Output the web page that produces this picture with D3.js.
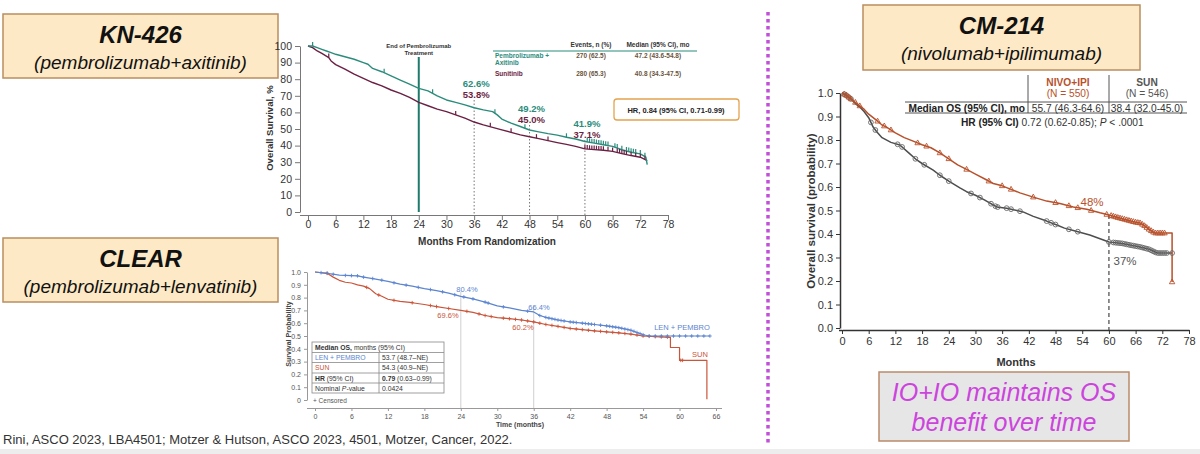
<!DOCTYPE html>
<html><head><meta charset="utf-8">
<script src="https://cdn.jsdelivr.net/npm/d3@7"></script>
<style>
body{margin:0;background:#fff;}
svg{display:block;font-family:"Liberation Sans",Arial,sans-serif;}
</style></head><body>
<svg id="c" width="1200" height="454"></svg>
<script>
// ---------------- DATA ----------------
// KN-426 (overall survival, %)
const knMonthTicks = [0,6,12,18,24,30,36,42,48,54,60,66,72,78];
const knPctTicks = [0,10,20,30,40,50,60,70,80,90,100];
const knPembroAxi = [[0,100],[1,100],[2,99],[3,98],[4,97],[5,96],[6,95],[8,93.5],[10,92],[12,90],[13,89],[14,86.5],[16,84.5],[18,82],[20,79.5],[22,77],[24,74.5],[26,73],[28,70],[30,67.5],[32,66],[34,64.5],[36,62.8],[38,61.5],[40,60.5],[41,58.5],[42,56],[44,53.5],[46,51.5],[48,49.4],[50,48.3],[52,47.2],[54,46.3],[56,45],[58,44],[60,42.5],[62,41.5],[64,40.5],[66,39.5],[68,37.5],[70,36],[72,35],[73.2,33],[73.5,28.5]];
const knSunitinib = [[0,100],[1,99],[2,97],[3,95.5],[4.5,93],[5,91],[6,88.8],[8,86],[10,83],[12,80.5],[14,78],[16,76],[18,73.5],[20,71.5],[22,69],[24,66],[26,64],[28,62],[30,60.5],[32,58.5],[34,56.5],[36,54.2],[38,52.5],[40,51],[42,49.5],[44,48],[46,46.5],[48,45.3],[50,44.2],[52,43],[54,41.8],[56,40.7],[58,39.5],[60,38],[62,37.6],[64,37.2],[66,36.5],[68,35.2],[70,34],[72,33],[73.5,31]];
const knCensorPembro = [1,16.5,27,40.5,47,56,60.5,61,61.5,62,62.5,63,63.5,64,64.5,65,66.5,67,68,69,69.5,70,70.5,71,72,73];
const knCensorSun = [4.5,32,39.5,44,49.5,52,60,60.5,61,61.5,62,62.5,63,63.5,64,65,66,67,67.5,68,68.5,69,70,71,72,73];
const knLandmarks = [36,48,60];
const knLandmarkPembro = ["62.6%","49.2%","41.9%"];
const knLandmarkSun = ["53.8%","45.0%","37.1%"];
const knLegendRows = ["Pembrolizumab +|Axitinib","Sunitinib"];
const knEvents = ["270 (62.5)","280 (65.3)"];
const knMedians = ["47.2 (43.6-54.8)","40.8 (34.3-47.5)"];

// CLEAR (survival probability)
const clMonthTicks = [0,6,12,18,24,30,36,42,48,54,60,66];
const clProbTicks = [0,0.1,0.2,0.3,0.4,0.5,0.6,0.7,0.8,0.9,1.0];
const clLenPembro = [[0,1],[2,0.99],[4,0.975],[7,0.97],[8,0.96],[10,0.945],[12,0.927],[14,0.905],[16,0.89],[18,0.87],[20,0.855],[22,0.835],[24,0.81],[26,0.79],[28,0.765],[30,0.735],[32,0.72],[34,0.70],[36,0.688],[37,0.66],[38,0.645],[40,0.625],[42,0.61],[44,0.60],[46,0.59],[48,0.579],[50,0.565],[52,0.545],[54,0.51],[55,0.50],[65,0.50]];
const clSun = [[0,1],[2,0.99],[3,0.96],[4,0.935],[5,0.92],[6,0.914],[7,0.90],[8,0.89],[9,0.87],[10,0.83],[11,0.81],[12,0.787],[14,0.77],[16,0.76],[18,0.746],[20,0.73],[22,0.715],[24,0.70],[26,0.685],[28,0.66],[30,0.644],[32,0.635],[34,0.625],[36,0.61],[38,0.59],[40,0.575],[42,0.559],[44,0.55],[46,0.54],[48,0.532],[50,0.525],[52,0.515],[54,0.50],[56,0.495],[58.5,0.49],[58.5,0.41],[60,0.41],[60,0.31],[64.5,0.31],[64.5,0.005]];
const clCensorLen = [1,2,3,5,6,7,8,9.5,11,13,15,17,19,21,23,24.5,26,28,28.5,31,35,37,38,38.5,39,39.5,40,40.5,41,42,42.5,43,44,44.5,45,45.5,46,47,48,48.5,49,49.5,50,50.5,51,51.5,52,52.5,53,53.5,54,55,56,57,58,59,60,61,62,63,64,65];
const clCensorSun = [2,8.5,10.5,13,16,19,20,22,25,27,28,29,31,32,33,34,35,36,37,38,39,40,41,42,43,44,45,46,47,48,49,50,51,52,53,54,55,56,57,58,60.2,60.5];
const clLandmarks = [24,36];
const clLandmarkLen = ["80.4%","66.4%"];
const clLandmarkSun = ["69.6%","60.2%"];

// CM-214 (overall survival, probability)
const cmMonthTicks = [0,6,12,18,24,30,36,42,48,54,60,66,72,78];
const cmProbTicks = [0,0.1,0.2,0.3,0.4,0.5,0.6,0.7,0.8,0.9,1.0];
const cmNivoIpi = [[0,1],[1,0.99],[2,0.975],[3,0.96],[4,0.945],[5,0.93],[6,0.91],[8,0.88],[9,0.864],[10,0.855],[12,0.83],[14,0.81],[16,0.795],[18,0.78],[20,0.767],[22,0.745],[24,0.72],[26,0.694],[28,0.675],[30,0.655],[32,0.635],[34,0.615],[36,0.605],[38,0.59],[40,0.575],[43,0.557],[46,0.54],[49,0.53],[52,0.515],[55,0.505],[58,0.49],[60,0.481],[62,0.47],[64,0.46],[66,0.45],[67,0.447],[68,0.435],[69,0.42],[70.3,0.404],[74.2,0.404],[74.2,0.196]];
const cmSun = [[0,1],[1,0.99],[2,0.975],[3,0.955],[4,0.94],[5,0.92],[6,0.895],[7,0.855],[7.8,0.835],[9,0.81],[11,0.79],[13,0.779],[15,0.745],[16.8,0.715],[18,0.70],[20.5,0.672],[22,0.65],[24,0.625],[26.5,0.596],[28,0.58],[30,0.565],[32,0.545],[34.8,0.515],[37,0.51],[40.7,0.494],[43,0.475],[46,0.455],[48.3,0.438],[50,0.425],[52,0.415],[55.7,0.396],[58,0.38],[60,0.366],[63,0.36],[65,0.352],[67,0.345],[69,0.335],[70.8,0.319],[74.2,0.319]];
const cmCensorNivo = [0.5,1,1.5,2,3,4,8,9.5,11,17,19,22,24,28,33,36,38,43,48,51,53,56,59.5,60.5,61,61.5,62,62.5,63,63.5,64,64.5,65,65.5,66,66.5,67,67.5,68,68.5,69,69.5,70,70.5,71,71.5,72,72.5,74.2];
const cmCensorSun = [0.5,1,1.5,2,6.5,7.5,12.5,13.5,16.5,18.5,22,24,29,31,33.5,34.5,35,37,38,40,46,47,48,51,53,60,61,61.5,62,62.5,63,63.5,64,64.5,65,65.5,66,66.5,67,67.5,68,68.5,69,69.5,70,70.5,71,71.5,72,72.5,73,74.2];
const cmLandmark = 60;
const cmLandmarkNivo = "48%";
const cmLandmarkSun = "37%";

// ---------------- HELPERS ----------------
const svg = d3.select("#c");
function valueAt(data, t){
  const last = data[data.length-1];
  if (t >= last[0]) return last[1];
  for (let i=0;i<data.length-1;i++){
    const a=data[i], b=data[i+1];
    if (t>=a[0] && t<=b[0] && b[0]>a[0]) return a[1] + (b[1]-a[1])*(t-a[0])/(b[0]-a[0]);
  }
  return data[0][1];
}
function km(g, data, x, y, color, w){
  g.append("path").datum(data)
   .attr("d", d3.line().x(d=>x(d[0])).y(d=>y(d[1])))
   .attr("fill","none").attr("stroke",color).attr("stroke-width",w).attr("stroke-linejoin","round");
}
function styleAxis(a, fs, col, lineCol){
  a.selectAll("text").attr("font-size",fs).attr("fill",col).attr("font-family","Liberation Sans, Arial, sans-serif");
  a.selectAll("line").attr("stroke",lineCol);
  a.select(".domain").attr("stroke",lineCol);
}
function titleBox(x,y,w,h,t1,t2){
  svg.append("rect").attr("x",x).attr("y",y).attr("width",w).attr("height",h)
    .attr("fill","#fde9c6").attr("stroke","#b98e5f").attr("stroke-width",1.5);
  svg.append("text").attr("x",x+w/2).attr("y",y+29).attr("text-anchor","middle")
    .attr("font-size",24).attr("font-weight","bold").attr("font-style","italic").attr("fill","#111").text(t1);
  svg.append("text").attr("x",x+w/2).attr("y",y+55).attr("text-anchor","middle")
    .attr("font-size",19).attr("font-style","italic").attr("fill","#111").text(t2);
}

// background strip
svg.append("rect").attr("x",0).attr("y",449).attr("width",1200).attr("height",5).attr("fill","#ededed");

// ---------------- TITLES / TEXT ----------------
titleBox(3,14,275,64,"KN-426","(pembrolizumab+axitinib)");
titleBox(3,238,275,64,"CLEAR","(pembrolizumab+lenvatinib)");
titleBox(863,5,277,65,"CM-214","(nivolumab+ipilimumab)");

svg.append("text").attr("x",3).attr("y",444).attr("font-size",13).attr("fill","#333")
  .text("Rini, ASCO 2023, LBA4501; Motzer & Hutson, ASCO 2023, 4501, Motzer, Cancer, 2022.");

svg.append("line").attr("x1",768).attr("x2",768).attr("y1",12).attr("y2",446)
  .attr("stroke","#c24fd9").attr("stroke-width",3.5).attr("stroke-dasharray","3.5,3.5");

svg.append("rect").attr("x",879).attr("y",372).attr("width",250).attr("height",69)
  .attr("fill","#e6e6e6").attr("stroke","#b98a6a").attr("stroke-width",1.5);
svg.append("text").attr("x",1004).attr("y",401).attr("text-anchor","middle").attr("font-size",25)
  .attr("font-style","italic").attr("fill","#cc44dd").text("IO+IO maintains OS");
svg.append("text").attr("x",1004).attr("y",431).attr("text-anchor","middle").attr("font-size",25)
  .attr("font-style","italic").attr("fill","#cc44dd").text("benefit over time");

// ---------------- KN-426 ----------------
{
  const teal = "#2b8c7c", maroon = "#6b1f43";
  const x = d3.scaleLinear([0,78],[308,668]);
  const y = d3.scaleLinear([0,100],[212,46]);
  const g = svg.append("g");
  const ya = g.append("g").attr("transform","translate(300,0)")
    .call(d3.axisLeft(y).tickValues(knPctTicks).tickSize(5).tickSizeOuter(0).tickPadding(3));
  styleAxis(ya,10.5,"#333","#777");
  const xa = g.append("g").attr("transform","translate(0,215)")
    .call(d3.axisBottom(x).tickValues(knMonthTicks).tickSize(5).tickSizeOuter(0).tickPadding(1));
  styleAxis(xa,10.5,"#333","#777");
  g.append("line").attr("x1",300).attr("x2",x(0)).attr("y1",215.5).attr("y2",215.5).attr("stroke","#777");
  g.append("text").attr("x",487).attr("y",245).attr("text-anchor","middle").attr("font-size",10)
    .attr("font-weight","bold").attr("fill","#333").text("Months From Randomization");
  g.append("text").attr("transform","translate(273,128) rotate(-90)").attr("text-anchor","middle")
    .attr("font-size",9.5).attr("font-weight","bold").attr("fill","#333").text("Overall Survival, %");

  g.append("line").attr("x1",x(24)).attr("x2",x(24)).attr("y1",57).attr("y2",y(0))
    .attr("stroke","#1e7a6a").attr("stroke-width",2);
  g.append("text").attr("x",x(24)).attr("y",48).attr("text-anchor","middle").attr("font-size",6)
    .attr("font-weight","bold").attr("fill","#333").text("End of Pembrolizumab");
  g.append("text").attr("x",x(24)).attr("y",55).attr("text-anchor","middle").attr("font-size",6)
    .attr("font-weight","bold").attr("fill","#333").text("Treatment");

  const labelTop = [92,117,132];
  knLandmarks.forEach((m,i)=>{
    g.append("line").attr("x1",x(m)).attr("x2",x(m)).attr("y1",labelTop[i]+8).attr("y2",215)
      .attr("stroke","#666").attr("stroke-width",0.9).attr("stroke-dasharray","1.5,2");
    g.append("text").attr("x",x(m)+2).attr("y",labelTop[i]-5).attr("text-anchor","middle")
      .attr("font-size",9.5).attr("font-weight","bold").attr("fill",teal).text(knLandmarkPembro[i]);
    g.append("text").attr("x",x(m)+2).attr("y",labelTop[i]+6).attr("text-anchor","middle")
      .attr("font-size",9.5).attr("font-weight","bold").attr("fill",maroon).text(knLandmarkSun[i]);
  });

  km(g,knSunitinib,x,y,maroon,1.4);
  km(g,knPembroAxi,x,y,teal,1.4);
  knCensorSun.forEach(m=>g.append("line").attr("x1",x(m)).attr("x2",x(m))
    .attr("y1",y(valueAt(knSunitinib,m))).attr("y2",y(valueAt(knSunitinib,m))-4).attr("stroke",maroon).attr("stroke-width",1.2));
  knCensorPembro.forEach(m=>g.append("line").attr("x1",x(m)).attr("x2",x(m))
    .attr("y1",y(valueAt(knPembroAxi,m))).attr("y2",y(valueAt(knPembroAxi,m))-4).attr("stroke",teal).attr("stroke-width",1.2));

  const lt = g.append("g").attr("font-size",6.5).attr("font-weight","bold");
  lt.append("text").attr("x",591).attr("y",47).attr("text-anchor","middle").attr("fill","#333").text("Events, n (%)");
  lt.append("text").attr("x",658).attr("y",47).attr("text-anchor","middle").attr("fill","#333").text("Median (95% CI), mo");
  lt.append("line").attr("x1",493).attr("x2",697).attr("y1",51).attr("y2",51).attr("stroke",teal).attr("stroke-width",1.2);
  const rowY = [58,76], rowCol = [teal, maroon];
  knLegendRows.forEach((r,i)=>{
    r.split("|").forEach((s,j)=>lt.append("text").attr("x",495).attr("y",rowY[i]+j*7).attr("fill",rowCol[i]).text(s));
    lt.append("text").attr("x",591).attr("y",rowY[i]).attr("text-anchor","middle").attr("fill","#6a5540").text(knEvents[i]);
    lt.append("text").attr("x",658).attr("y",rowY[i]).attr("text-anchor","middle").attr("fill","#6a5540").text(knMedians[i]);
  });
  g.append("rect").attr("x",614).attr("y",99).attr("width",125).attr("height",21).attr("rx",3)
    .attr("fill","#fff").attr("stroke","#e4a34e").attr("stroke-width",1.3);
  g.append("text").attr("x",676).attr("y",112.5).attr("text-anchor","middle").attr("font-size",7.5)
    .attr("font-weight","bold").attr("fill","#222").text("HR, 0.84 (95% CI, 0.71-0.99)");
}

// ---------------- CLEAR ----------------
{
  const blue = "#5b85d0", red = "#c9553a";
  const x = d3.scaleLinear([0,66],[315,716]);
  const y = d3.scaleLinear([0,1],[400,272]);
  const g = svg.append("g");
  const ya = g.append("g").attr("transform","translate(307,0)")
    .call(d3.axisLeft(y).tickValues(clProbTicks).tickSize(3).tickSizeOuter(0).tickPadding(3)
      .tickFormat(d=>d===0?"0":d3.format(".1f")(d)));
  styleAxis(ya,7,"#555","#999");
  const xa = g.append("g").attr("transform","translate(0,408)")
    .call(d3.axisBottom(x).tickValues(clMonthTicks).tickSize(3).tickSizeOuter(0).tickPadding(3));
  styleAxis(xa,7,"#555","#999");
  g.append("line").attr("x1",307).attr("x2",x(0)).attr("y1",408.5).attr("y2",408.5).attr("stroke","#999");
  g.append("line").attr("x1",x(66)).attr("x2",722).attr("y1",408.5).attr("y2",408.5).attr("stroke","#999");
  g.append("text").attr("x",520).attr("y",427).attr("text-anchor","middle").attr("font-size",7)
    .attr("font-weight","bold").attr("fill","#444").text("Time (months)");
  g.append("text").attr("transform","translate(291,334) rotate(-90)").attr("text-anchor","middle")
    .attr("font-size",7).attr("font-weight","bold").attr("fill","#444").text("Survival Probability");

  const vTop = [292,305];
  clLandmarks.forEach((m,i)=>g.append("line").attr("x1",x(m)).attr("x2",x(m)).attr("y1",vTop[i]).attr("y2",408)
    .attr("stroke","#cfcfcf").attr("stroke-width",1));

  km(g,clSun,x,y,red,1.2);
  km(g,clLenPembro,x,y,blue,1.2);
  const plus = (m,data,col)=>{
    const cx=x(m), cy=y(valueAt(data,m));
    g.append("path").attr("d",`M${cx-1.8},${cy}H${cx+1.8}M${cx},${cy-1.8}V${cy+1.8}`).attr("stroke",col).attr("stroke-width",0.9);
  };
  clCensorSun.forEach(m=>plus(m,clSun,red));
  clCensorLen.forEach(m=>plus(m,clLenPembro,blue));

  const lx = [467,539], ly1 = [292,310], ly2 = [318,330], lx2 = [448,523];
  clLandmarks.forEach((m,i)=>{
    g.append("text").attr("x",lx[i]).attr("y",ly1[i]).attr("text-anchor","middle").attr("font-size",7.5).attr("fill",blue).text(clLandmarkLen[i]);
    g.append("text").attr("x",lx2[i]).attr("y",ly2[i]).attr("text-anchor","middle").attr("font-size",7.5).attr("fill",red).text(clLandmarkSun[i]);
  });
  g.append("text").attr("x",682).attr("y",330).attr("text-anchor","middle").attr("font-size",7.5).attr("fill",blue).text("LEN + PEMBRO");
  g.append("text").attr("x",700).attr("y",357).attr("text-anchor","middle").attr("font-size",7.5).attr("fill",red).text("SUN");

  const t = g.append("g").attr("font-size",6.8).attr("fill","#333");
  const tl=312, tr=444, tc=379, rows=[342,352.5,362.5,373,383,393];
  t.append("rect").attr("x",tl).attr("y",rows[0]).attr("width",tr-tl).attr("height",rows[5]-rows[0]).attr("fill","#fff").attr("stroke","#888").attr("stroke-width",0.8);
  rows.slice(1,5).forEach(r=>t.append("line").attr("x1",tl).attr("x2",tr).attr("y1",r).attr("y2",r).attr("stroke","#888").attr("stroke-width",0.8));
  t.append("line").attr("x1",tc).attr("x2",tc).attr("y1",rows[1]).attr("y2",rows[5]).attr("stroke","#888").attr("stroke-width",0.8);
  const base = i=>rows[i]+7.6;
  const r0 = t.append("text").attr("x",tl+3).attr("y",base(0));
  r0.append("tspan").attr("font-weight","bold").text("Median OS,");
  r0.append("tspan").text(" months (95% CI)");
  t.append("text").attr("x",tl+3).attr("y",base(1)).attr("fill",blue).text("LEN + PEMBRO");
  t.append("text").attr("x",tc+3).attr("y",base(1)).text("53.7 (48.7–NE)");
  t.append("text").attr("x",tl+3).attr("y",base(2)).attr("fill",red).text("SUN");
  t.append("text").attr("x",tc+3).attr("y",base(2)).text("54.3 (40.9–NE)");
  const r3 = t.append("text").attr("x",tl+3).attr("y",base(3));
  r3.append("tspan").attr("font-weight","bold").text("HR");
  r3.append("tspan").text(" (95% CI)");
  const r3b = t.append("text").attr("x",tc+3).attr("y",base(3));
  r3b.append("tspan").attr("font-weight","bold").text("0.79");
  r3b.append("tspan").text(" (0.63–0.99)");
  const r4 = t.append("text").attr("x",tl+3).attr("y",base(4));
  r4.append("tspan").text("Nominal ");
  r4.append("tspan").attr("font-style","italic").text("P");
  r4.append("tspan").text("-value");
  t.append("text").attr("x",tc+3).attr("y",base(4)).text("0.0424");
  g.append("text").attr("x",313).attr("y",403).attr("font-size",6.5).attr("fill","#555").text("+ Censored");
}

// ---------------- CM-214 ----------------
{
  const orange = "#b8512b", gray = "#4d4d4d";
  const x = d3.scaleLinear([0,78],[842,1189]);
  const y = d3.scaleLinear([0,1],[328,93]);
  const g = svg.append("g");
  const ya = g.append("g").attr("transform","translate(840,0)")
    .call(d3.axisLeft(y).tickValues(cmProbTicks).tickSize(4).tickSizeOuter(0).tickPadding(3).tickFormat(d3.format(".1f")));
  styleAxis(ya,11,"#333","#333");
  ya.select(".domain").attr("stroke-width",1.5);
  const xa = g.append("g").attr("transform","translate(0,330)")
    .call(d3.axisBottom(x).tickValues(cmMonthTicks).tickSize(4).tickSizeOuter(0).tickPadding(3));
  styleAxis(xa,11,"#333","#333");
  xa.select(".domain").attr("stroke-width",1.5);
  g.append("line").attr("x1",839).attr("x2",x(0)).attr("y1",330.5).attr("y2",330.5).attr("stroke","#333").attr("stroke-width",1.5);
  g.append("text").attr("x",1016).attr("y",366).attr("text-anchor","middle").attr("font-size",11)
    .attr("font-weight","bold").attr("fill","#333").text("Months");
  g.append("text").attr("transform","translate(815,211) rotate(-90)").attr("text-anchor","middle")
    .attr("font-size",11.5).attr("font-weight","bold").attr("fill","#333").text("Overall survival (probability)");

  g.append("line").attr("x1",x(cmLandmark)).attr("x2",x(cmLandmark)).attr("y1",y(valueAt(cmNivoIpi,cmLandmark))).attr("y2",330)
    .attr("stroke","#555").attr("stroke-width",1.3).attr("stroke-dasharray","4,3");

  km(g,cmSun,x,y,gray,1.5);
  km(g,cmNivoIpi,x,y,orange,1.5);
  cmCensorSun.forEach(m=>g.append("circle").attr("cx",x(m)).attr("cy",y(valueAt(cmSun,m))).attr("r",2.4)
    .attr("fill","none").attr("stroke","#666").attr("stroke-width",0.9));
  cmCensorNivo.forEach(m=>{
    const cx=x(m), cy=y(valueAt(cmNivoIpi,m));
    g.append("path").attr("d",`M${cx},${cy-3}L${cx+2.7},${cy+1.8}L${cx-2.7},${cy+1.8}Z`)
      .attr("fill","none").attr("stroke",orange).attr("stroke-width",0.9);
  });
  g.append("text").attr("x",1092).attr("y",206).attr("text-anchor","middle").attr("font-size",11.5).attr("fill",orange).text(cmLandmarkNivo);
  g.append("text").attr("x",1125).attr("y",265).attr("text-anchor","middle").attr("font-size",11.5).attr("fill","#555").text(cmLandmarkSun);

  const t = g.append("g").attr("font-size",10.2);
  t.append("text").attr("x",1068).attr("y",86).attr("text-anchor","middle").attr("font-weight","bold").attr("fill",orange).text("NIVO+IPI");
  t.append("text").attr("x",1068).attr("y",97).attr("text-anchor","middle").attr("fill",orange).text("(N = 550)");
  t.append("text").attr("x",1147).attr("y",86).attr("text-anchor","middle").attr("font-weight","bold").attr("fill","#555").text("SUN");
  t.append("text").attr("x",1147).attr("y",97).attr("text-anchor","middle").attr("fill","#555").text("(N = 546)");
  [1028,1109].forEach(v=>t.append("line").attr("x1",v).attr("x2",v).attr("y1",75).attr("y2",113).attr("stroke","#555").attr("stroke-width",1));
  [102,113].forEach(h=>t.append("line").attr("x1",905).attr("x2",1187).attr("y1",h).attr("y2",h).attr("stroke","#555").attr("stroke-width",1));
  t.append("text").attr("x",1025).attr("y",111.5).attr("text-anchor","end").attr("font-weight","bold").attr("fill","#222").text("Median OS (95% CI), mo");
  t.append("text").attr("x",1068).attr("y",111.5).attr("text-anchor","middle").attr("fill","#333").text("55.7 (46.3-64.6)");
  t.append("text").attr("x",1147).attr("y",111.5).attr("text-anchor","middle").attr("fill","#333").text("38.4 (32.0-45.0)");
  const hr = t.append("text").attr("x",961).attr("y",126).attr("fill","#333");
  hr.append("tspan").attr("font-weight","bold").attr("fill","#222").text("HR (95% CI)");
  hr.append("tspan").text(" 0.72 (0.62-0.85); ");
  hr.append("tspan").attr("font-style","italic").text("P");
  hr.append("tspan").text(" < .0001");
}
</script>
</body></html>
